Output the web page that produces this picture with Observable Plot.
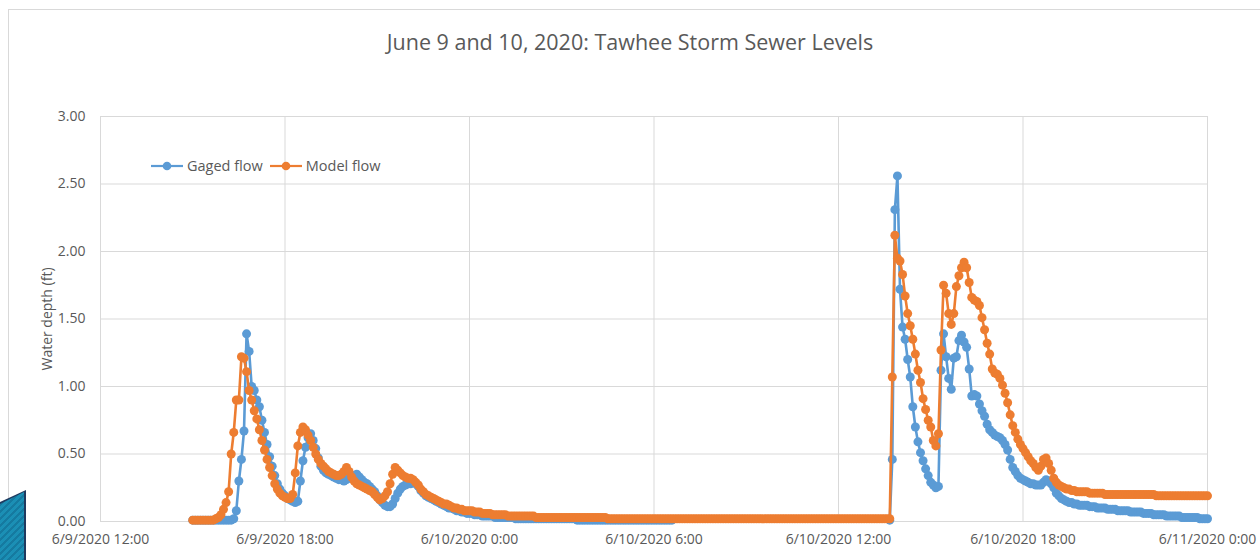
<!DOCTYPE html>
<html>
<head>
<meta charset="utf-8">
<script src="https://cdn.jsdelivr.net/npm/d3@7"></script>
<script src="https://cdn.jsdelivr.net/npm/@observablehq/plot@0.6"></script>
<style>
  html, body { margin: 0; padding: 0; background: #fff; }
  body { width: 1260px; height: 560px; position: relative; overflow: hidden; font-family: "Open Sans", sans-serif; }
  #frame { position: absolute; left: 8px; top: 9px; width: 1300px; height: 600px; border: 1px solid #d9d9d9; box-sizing: border-box; }
  #title { position: absolute; left: 0; top: 0; width: 1260px; height: 70px; text-align: center; font-size: 21.5px; color: #595959; line-height: 84px; }
  #chart { position: absolute; left: 0; top: 70px; }
  #legend { position: absolute; left: 151px; top: 156px; display: flex; align-items: center; font-size: 14.5px; color: #595959; }
  #legend .item { display: flex; align-items: center; margin-right: 7px; }
  #legend svg { margin-right: 4px; }
  #deco { position: absolute; left: 0; top: 492px; width: 24px; height: 68px; background: repeating-linear-gradient(135deg, #1b8fb5 0 3px, #157aa0 3px 5px); clip-path: polygon(0 12px, 24px 0, 24px 100%, 0 100%); }
  #deco2 { position: absolute; left: 0; top: 490px; width: 26px; height: 70px; background: #1f3a5f; clip-path: polygon(0 12px, 26px 0, 26px 100%, 0 100%); }
</style>
</head>
<body>
<div id="frame"></div>
<div id="deco2"></div>
<div id="deco"></div>
<div id="title">June 9 and 10, 2020: Tawhee Storm Sewer Levels</div>
<div id="chart"></div>
<div id="legend"></div>
<script>
// 5-minute readings starting 6/9/2020 15:00, one row per hour
const seriesNames = ["Gaged flow", "Model flow"];
const seriesColors = ["#5B9BD5", "#ED7D31"];
const yTickValues = [0, 0.5, 1, 1.5, 2, 2.5, 3];
const xTickLabels = ["6/9/2020 12:00", "6/9/2020 18:00", "6/10/2020 0:00", "6/10/2020 6:00", "6/10/2020 12:00", "6/10/2020 18:00", "6/11/2020 0:00"];

const gaged = [
  0.01,0.01,0.01,0.01,0.01,0.01,0.01,0.01,0.01,0.01,0.01,0.01,
  0.01,0.01,0.01,0.01,0.02,0.08,0.30,0.46,0.67,1.39,1.26,1.00,
  0.97,0.90,0.85,0.75,0.66,0.57,0.48,0.41,0.34,0.28,0.24,0.21,
  0.19,0.17,0.16,0.15,0.14,0.15,0.30,0.45,0.55,0.62,0.65,0.60,
  0.54,0.47,0.41,0.38,0.36,0.35,0.34,0.33,0.32,0.31,0.31,0.30,
  0.31,0.32,0.33,0.34,0.35,0.33,0.31,0.29,0.28,0.26,0.24,0.22,
  0.19,0.16,0.14,0.12,0.11,0.11,0.13,0.17,0.21,0.24,0.26,0.27,
  0.28,0.28,0.29,0.28,0.26,0.23,0.21,0.19,0.18,0.17,0.16,0.15,
  0.14,0.13,0.12,0.11,0.10,0.10,0.09,0.08,0.08,0.07,0.07,0.06,
  0.06,0.06,0.05,0.05,0.05,0.04,0.04,0.04,0.04,0.04,0.03,0.03,
  0.03,0.03,0.03,0.03,0.03,0.03,0.02,0.02,0.02,0.02,0.02,0.02,
  0.02,0.02,0.02,0.02,0.02,0.02,0.02,0.02,0.02,0.02,0.02,0.02,
  0.02,0.02,0.02,0.02,0.02,0.02,0.01,0.01,0.01,0.01,0.01,0.01,
  0.01,0.01,0.01,0.01,0.01,0.01,0.01,0.01,0.01,0.01,0.01,0.01,
  0.01,0.01,0.01,0.01,0.01,0.01,0.01,0.01,0.01,0.01,0.01,0.01,
  0.01,0.01,0.01,0.01,0.01,0.01,0.01,0.01,null,null,null,null,
  null,null,null,null,null,null,null,null,null,null,null,null,
  null,null,null,null,null,null,null,null,null,null,null,null,
  null,null,null,null,null,null,null,null,null,null,null,null,
  null,null,null,null,null,null,null,null,null,null,null,null,
  null,null,null,null,null,null,null,null,null,null,null,null,
  null,null,null,null,null,null,null,null,null,null,null,null,
  null,null,null,null,null,null,null,null,0.01,0.46,2.31,2.56,
  1.72,1.44,1.35,1.20,1.07,0.85,0.70,0.59,0.51,0.45,0.39,0.34,
  0.29,0.27,0.25,0.26,1.12,1.39,1.22,1.06,0.98,1.21,1.22,1.34,
  1.38,1.33,1.29,1.13,0.93,0.94,0.93,0.87,0.82,0.78,0.72,0.68,
  0.66,0.64,0.63,0.62,0.60,0.57,0.53,0.46,0.40,0.37,0.34,0.32,
  0.31,0.30,0.29,0.28,0.28,0.27,0.27,0.27,0.29,0.31,0.30,0.28,
  0.25,0.21,0.19,0.17,0.16,0.15,0.14,0.14,0.13,0.13,0.12,0.12,
  0.12,0.12,0.11,0.11,0.11,0.10,0.10,0.10,0.10,0.09,0.09,0.09,
  0.09,0.08,0.08,0.08,0.08,0.08,0.07,0.07,0.07,0.07,0.07,0.06,
  0.06,0.06,0.06,0.05,0.05,0.05,0.05,0.05,0.04,0.04,0.04,0.04,
  0.04,0.04,0.03,0.03,0.03,0.03,0.03,0.03,0.03,0.02,0.02,0.02,
  0.02
];

const model = [
  0.01,0.01,0.01,0.01,0.01,0.01,0.01,0.01,0.01,0.02,0.03,0.05,
  0.09,0.14,0.22,0.50,0.66,0.90,0.90,1.22,1.21,1.11,0.97,0.90,
  0.82,0.76,0.68,0.60,0.53,0.46,0.40,0.34,0.28,0.24,0.21,0.19,
  0.18,0.17,0.17,0.20,0.36,0.56,0.66,0.70,0.68,0.64,0.60,0.55,
  0.50,0.46,0.43,0.41,0.39,0.37,0.36,0.35,0.34,0.34,0.35,0.37,
  0.40,0.37,0.33,0.30,0.28,0.27,0.26,0.25,0.24,0.23,0.22,0.20,
  0.18,0.16,0.17,0.19,0.22,0.28,0.35,0.40,0.38,0.36,0.34,0.33,
  0.32,0.32,0.31,0.29,0.27,0.24,0.22,0.20,0.19,0.18,0.17,0.16,
  0.15,0.14,0.13,0.13,0.12,0.11,0.10,0.10,0.09,0.09,0.08,0.08,
  0.08,0.08,0.07,0.07,0.07,0.06,0.06,0.06,0.06,0.05,0.05,0.05,
  0.05,0.05,0.05,0.04,0.04,0.04,0.04,0.04,0.04,0.04,0.04,0.04,
  0.04,0.04,0.03,0.03,0.03,0.03,0.03,0.03,0.03,0.03,0.03,0.03,
  0.03,0.03,0.03,0.03,0.03,0.03,0.03,0.03,0.03,0.03,0.03,0.03,
  0.03,0.03,0.03,0.03,0.03,0.03,0.02,0.02,0.02,0.02,0.02,0.02,
  0.02,0.02,0.02,0.02,0.02,0.02,0.02,0.02,0.02,0.02,0.02,0.02,
  0.02,0.02,0.02,0.02,0.02,0.02,0.02,0.02,0.02,0.02,0.02,0.02,
  0.02,0.02,0.02,0.02,0.02,0.02,0.02,0.02,0.02,0.02,0.02,0.02,
  0.02,0.02,0.02,0.02,0.02,0.02,0.02,0.02,0.02,0.02,0.02,0.02,
  0.02,0.02,0.02,0.02,0.02,0.02,0.02,0.02,0.02,0.02,0.02,0.02,
  0.02,0.02,0.02,0.02,0.02,0.02,0.02,0.02,0.02,0.02,0.02,0.02,
  0.02,0.02,0.02,0.02,0.02,0.02,0.02,0.02,0.02,0.02,0.02,0.02,
  0.02,0.02,0.02,0.02,0.02,0.02,0.02,0.02,0.02,0.02,0.02,0.02,
  0.02,0.02,0.02,0.02,0.02,0.02,0.02,0.02,0.02,1.07,2.12,1.95,
  1.93,1.83,1.67,1.54,1.45,1.35,1.24,1.12,1.03,0.91,0.83,0.75,
  0.70,0.60,0.56,0.65,1.27,1.75,1.69,1.54,1.46,1.54,1.74,1.82,
  1.88,1.92,1.88,1.77,1.66,1.64,1.63,1.60,1.51,1.42,1.32,1.24,
  1.13,1.10,1.09,1.06,1.01,0.95,0.88,0.79,0.71,0.66,0.61,0.57,
  0.54,0.51,0.48,0.45,0.43,0.40,0.38,0.41,0.46,0.47,0.43,0.38,
  0.32,0.29,0.27,0.26,0.25,0.24,0.24,0.23,0.23,0.22,0.22,0.22,
  0.22,0.22,0.21,0.21,0.21,0.21,0.21,0.21,0.20,0.20,0.20,0.20,
  0.20,0.20,0.20,0.20,0.20,0.20,0.20,0.20,0.20,0.20,0.20,0.20,
  0.20,0.20,0.20,0.20,0.19,0.19,0.19,0.19,0.19,0.19,0.19,0.19,
  0.19,0.19,0.19,0.19,0.19,0.19,0.19,0.19,0.19,0.19,0.19,0.19,
  0.19
];

const startTime = Date.UTC(2020, 5, 9, 15, 0);
const stepMs = 5 * 60 * 1000;
const toRows = (arr, name) => arr.map((v, i) => ({ t: new Date(startTime + i * stepMs), v, s: name }));
const gagedRows = toRows(gaged, seriesNames[0]);
const modelRows = toRows(model, seriesNames[1]);

const xDomain = [new Date(Date.UTC(2020, 5, 9, 12)), new Date(Date.UTC(2020, 5, 11, 0))];
const xTicks = xTickLabels.map((_, i) => new Date(xDomain[0].getTime() + i * 6 * 3600 * 1000));
const fmtX = d => xTickLabels[xTicks.findIndex(t => t.getTime() === d.getTime())];

const chart = Plot.plot({
  width: 1260,
  height: 490,
  marginLeft: 100,
  marginRight: 53,
  marginTop: 46,
  marginBottom: 39,
  style: { fontFamily: "'Open Sans', sans-serif", fontSize: "14px", color: "#595959", background: "transparent", overflow: "visible" },
  x: { type: "utc", domain: xDomain, label: null },
  y: { domain: [0, 3], label: null },
  marks: [
    Plot.gridY(yTickValues, { stroke: "#d9d9d9", strokeOpacity: 1, strokeWidth: 1 }),
    Plot.gridX(xTicks, { stroke: "#d9d9d9", strokeOpacity: 1, strokeWidth: 1 }),
    Plot.frame({ stroke: "#d9d9d9", strokeWidth: 1 }),
    Plot.axisX(xTicks, { tickSize: 0, tickPadding: 13, tickFormat: fmtX, fill: "#595959", fontSize: 14, label: null }),
    Plot.axisY(yTickValues, { tickSize: 0, tickPadding: 15, tickFormat: d => d.toFixed(2), fill: "#595959", fontSize: 14, label: "Water depth (ft)", labelAnchor: "center", labelOffset: 58, labelArrow: "none" }),
    Plot.line(gagedRows, { x: "t", y: "v", stroke: seriesColors[0], strokeWidth: 2.6, strokeLinejoin: "round" }),
    Plot.dot(gagedRows.filter(d => d.v != null), { x: "t", y: "v", r: 4.5, fill: seriesColors[0], stroke: "none" }),
    Plot.line(modelRows, { x: "t", y: "v", stroke: seriesColors[1], strokeWidth: 2.6, strokeLinejoin: "round" }),
    Plot.dot(modelRows, { x: "t", y: "v", r: 4.5, fill: seriesColors[1], stroke: "none" })
  ]
});
document.getElementById("chart").appendChild(chart);

const legend = document.getElementById("legend");
seriesNames.forEach((name, i) => {
  const item = document.createElement("div");
  item.className = "item";
  item.innerHTML = `<svg width="32" height="12"><line x1="0" y1="6" x2="32" y2="6" stroke="${seriesColors[i]}" stroke-width="2.2"/><circle cx="16" cy="6" r="4.3" fill="${seriesColors[i]}"/></svg><span>${name}</span>`;
  legend.appendChild(item);
});
</script>
</body>
</html>
